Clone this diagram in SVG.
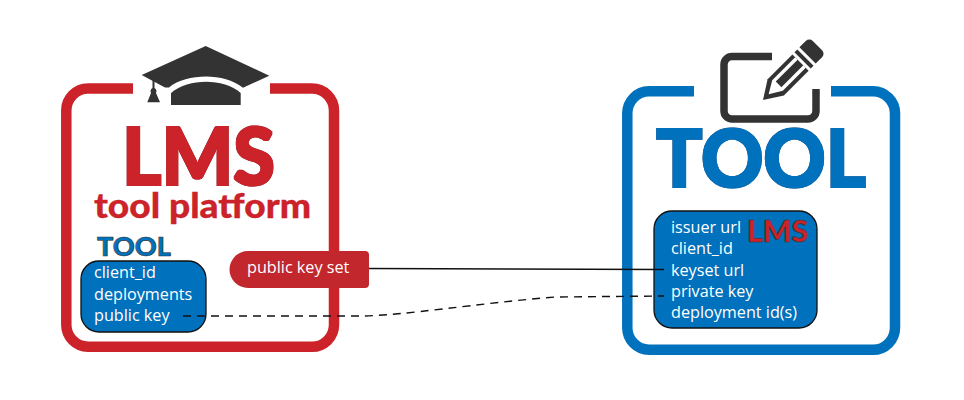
<svg xmlns="http://www.w3.org/2000/svg" width="964" height="400" viewBox="0 0 964 400">
<defs>
<filter id="fatRed" x="-10%" y="-10%" width="120%" height="120%">
<feMorphology in="SourceAlpha" operator="dilate" radius="1.2" result="o"/>
<feFlood flood-color="#333"/><feComposite in2="o" operator="in" result="edge"/>
<feMorphology in="SourceAlpha" operator="dilate" radius="0.7" result="i"/>
<feFlood flood-color="#cc2229"/><feComposite in2="i" operator="in" result="body"/>
<feMerge><feMergeNode in="edge"/><feMergeNode in="body"/></feMerge>
</filter>
<filter id="fatBlue" x="-10%" y="-10%" width="120%" height="120%">
<feMorphology in="SourceAlpha" operator="dilate" radius="1.2" result="o"/>
<feFlood flood-color="#333"/><feComposite in2="o" operator="in" result="edge"/>
<feMorphology in="SourceAlpha" operator="dilate" radius="0.8" result="i"/>
<feFlood flood-color="#0071bc"/><feComposite in2="i" operator="in" result="body"/>
<feMerge><feMergeNode in="edge"/><feMergeNode in="body"/></feMerge>
</filter>
</defs>
<style>
.frame{fill:none;stroke-width:10.5}
.box{fill:#0071bc;stroke:#111;stroke-width:1.3}
.t{font-family:"Open Sans","Noto Sans",sans-serif;font-size:16.2px;fill:#fff}
.lato{font-family:Lato,"Liberation Sans",sans-serif;font-weight:900}
.dark{fill:#333}
</style>
<rect width="964" height="400" fill="#fff"/>
<g id="lms">
<path class="frame" stroke="#cc2229" d="M133 88.500H88A22 22 0 0 0 66.300 110.500V325A22 22 0 0 0 88 346.800H312A22 22 0 0 0 334 325V110.500A22 22 0 0 0 312 88.500H270"/>
<g class="dark">
<path d="M205.700 46L141.700 75L165 87.500L169 87.500C178 80 192 76.500 206 76.500C220 76.500 233 80 243 87.700L269.300 75.700Z"/>
<path d="M171 105V93C180 85 193 81.700 206 81.700C219 81.700 232 85 240.700 93V105Z"/>
<path d="M152.500 75.500H154.500V88C156.500 89 157 91 156 93L160 102.300H147.300L151 93C150 91 150.500 89 152.500 88Z"/>
</g>
<text class="lato" x="122" y="185" filter="url(#fatRed)" font-size="80" textLength="153" lengthAdjust="spacingAndGlyphs" fill="#cc2229">LMS</text>
<text class="lato" x="94" y="218" font-size="34" textLength="217" lengthAdjust="spacingAndGlyphs" fill="#cc2229" stroke="#cc2229" stroke-width="0.3">tool platform</text>
<text class="lato" x="97" y="256" font-size="26" textLength="74" lengthAdjust="spacingAndGlyphs" fill="#0071bc" stroke="#333" stroke-width="0.6">TOOL</text>
</g>
<g id="lms-box">
<rect class="box" x="81" y="261" width="125" height="71" rx="18"/>
<text class="t" x="94" y="278">client_id</text>
<text class="t" x="94" y="300">deployments</text>
<text class="t" x="94" y="321">public key</text>
</g>
<g id="tool">
<path class="frame" stroke="#0071bc" d="M694 91.300H649A22 22 0 0 0 627.300 113.300V328A22 22 0 0 0 649 349.800H873A22 22 0 0 0 895 328V113.300A22 22 0 0 0 873 91.300H831"/>
<path d="M772 56.500H732A8 8 0 0 0 724 64.500V111A8 8 0 0 0 732 119H808A8 8 0 0 0 816 111V89" fill="none" stroke="#333" stroke-width="7.500"/>
<g transform="translate(763 100) rotate(-45)" class="dark">
<path d="M0 0L18 -11.500H53V11.500H18Z"/>
<path d="M8 0L20.500 -7.500H53V-4H22V4H53V7.500H20.500Z" fill="#fff"/>
<rect x="56" y="-11.500" width="4" height="23" />
<path d="M63 -11.500H72A5 5 0 0 1 77 -6.500V6.500A5 5 0 0 1 72 11.500H63Z"/>
</g>
<text class="lato" x="656" y="187" filter="url(#fatBlue)" font-size="80" textLength="210" lengthAdjust="spacingAndGlyphs" fill="#0071bc">TOOL</text>
</g>
<g id="tool-box">
<rect class="box" x="654" y="211" width="163" height="117" rx="18"/>
<text class="t" x="671" y="233">issuer url</text>
<text class="t" x="671" y="254">client_id</text>
<text class="t" x="671" y="276">keyset url</text>
<text class="t" x="671" y="297">private key</text>
<text class="t" x="671" y="318">deployment id(s)</text>
<text class="lato" x="747" y="242" font-size="31" textLength="61" lengthAdjust="spacingAndGlyphs" fill="#cc2229" stroke="#333" stroke-width="0.7">LMS</text>
</g>
<g id="connectors" fill="none" stroke="#111" stroke-width="1.400">
<path d="M369 268.500L664 269.500"/>
<path stroke-dasharray="8 6" d="M183 316H360C400 316 480 303 555 297L664 296"/>
</g>
<g id="public-key-set">
<path d="M248 251H365A4 4 0 0 1 369 255V284A4 4 0 0 1 365 288H248A18.500 18.500 0 0 1 248 251Z" fill="#c1272d"/>
<text class="t" x="247" y="273">public key set</text>
</g>
</svg>
